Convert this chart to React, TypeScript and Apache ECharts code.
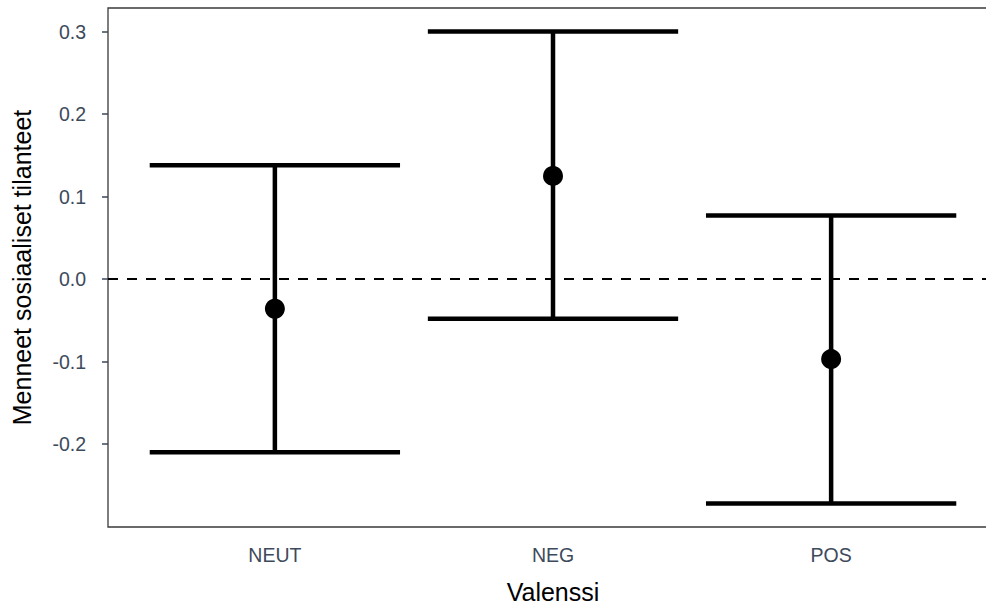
import React, { useEffect, useRef } from "react";
import * as echarts from "echarts";

const categories = ["NEUT", "NEG", "POS"];
const means = [-0.036, 0.125, -0.097];
const lower = [-0.21, -0.048, -0.272];
const upper = [0.138, 0.3, 0.077];
const yTicks = [-0.2, -0.1, 0, 0.1, 0.2, 0.3];
const xTitle = "Valenssi";
const yTitle = "Menneet sosiaaliset tilanteet";

const FONT = "'Liberation Sans', Arial, Helvetica, sans-serif";
const LABEL_COLOR = "#3d4a5c";

export default function App() {
  const ref = useRef<HTMLDivElement>(null);

  useEffect(() => {
    if (!ref.current) return;
    const chart = echarts.init(ref.current, undefined, { renderer: "svg" });
    const errData = categories.map((_, i) => [i + 1, lower[i], upper[i]]);
    const pointData = categories.map((_, i) => [i + 1, means[i]]);
    const capHalf = 0.45;

    chart.setOption({
      animation: false,
      backgroundColor: "#ffffff",
      grid: {
        left: 108,
        right: -12,
        top: 8,
        bottom: 79,
        show: true,
        borderColor: "#3a3a3a",
        borderWidth: 1.3,
        backgroundColor: "transparent",
        containLabel: false,
        outerBoundsMode: "none",
      },
      xAxis: {
        type: "value",
        min: 0.4,
        max: 3.6,
        name: xTitle,
        nameLocation: "middle",
        nameGap: 52,
        nameTextStyle: { fontFamily: FONT, fontSize: 25, color: "#000" },
        axisLine: { show: false },
        axisTick: { show: false },
        splitLine: { show: false },
        axisLabel: {
          customValues: [1, 2, 3],
          formatter: (v: number) => categories[Math.round(v) - 1] ?? "",
          fontFamily: FONT,
          fontSize: 19.5,
          color: LABEL_COLOR,
          margin: 18,
        },
      },
      yAxis: {
        type: "value",
        min: -0.3006,
        max: 0.3286,
        name: yTitle,
        nameLocation: "middle",
        nameGap: 74,
        nameTextStyle: { fontFamily: FONT, fontSize: 25, color: "#000" },
        axisLine: { show: false },
        splitLine: { show: false },
        axisTick: {
          show: true,
          customValues: yTicks,
          length: 6,
          lineStyle: { color: "#3a4656", width: 1.5 },
        },
        axisLabel: {
          customValues: yTicks,
          formatter: (v: number) => (Math.abs(v) < 1e-9 ? "0.0" : v.toFixed(1)),
          fontFamily: FONT,
          fontSize: 19.5,
          color: LABEL_COLOR,
          margin: 22,
        },
      },
      series: [
        {
          type: "custom",
          data: errData,
          encode: { x: 0, y: [1, 2] },
          renderItem: (params: any, api: any) => {
            const x = api.value(0);
            const lo = api.coord([x, api.value(1)]);
            const hi = api.coord([x, api.value(2)]);
            const left = api.coord([x - capHalf, api.value(1)])[0];
            const right = api.coord([x + capHalf, api.value(1)])[0];
            const style = { stroke: "#000", lineWidth: 4.5 };
            return {
              type: "group",
              children: [
                { type: "line", shape: { x1: lo[0], y1: lo[1], x2: hi[0], y2: hi[1] }, style },
                { type: "line", shape: { x1: left, y1: hi[1], x2: right, y2: hi[1] }, style },
                { type: "line", shape: { x1: left, y1: lo[1], x2: right, y2: lo[1] }, style },
              ],
            };
          },
          z: 3,
        },
        {
          type: "scatter",
          data: pointData,
          symbol: "circle",
          symbolSize: 20,
          itemStyle: { color: "#000", opacity: 1 },
          z: 4,
          markLine: {
            silent: true,
            symbol: ["none", "none"],
            label: { show: false },
            lineStyle: { color: "#000", width: 2, type: [10, 9], opacity: 1 },
            data: [{ yAxis: 0 }],
            z: 2,
          },
        },
      ],
    });

    return () => chart.dispose();
  }, []);

  return (
    <div
      ref={ref}
      style={{ position: "fixed", left: 0, top: 0, width: 986, height: 606, background: "#fff" }}
    />
  );
}
